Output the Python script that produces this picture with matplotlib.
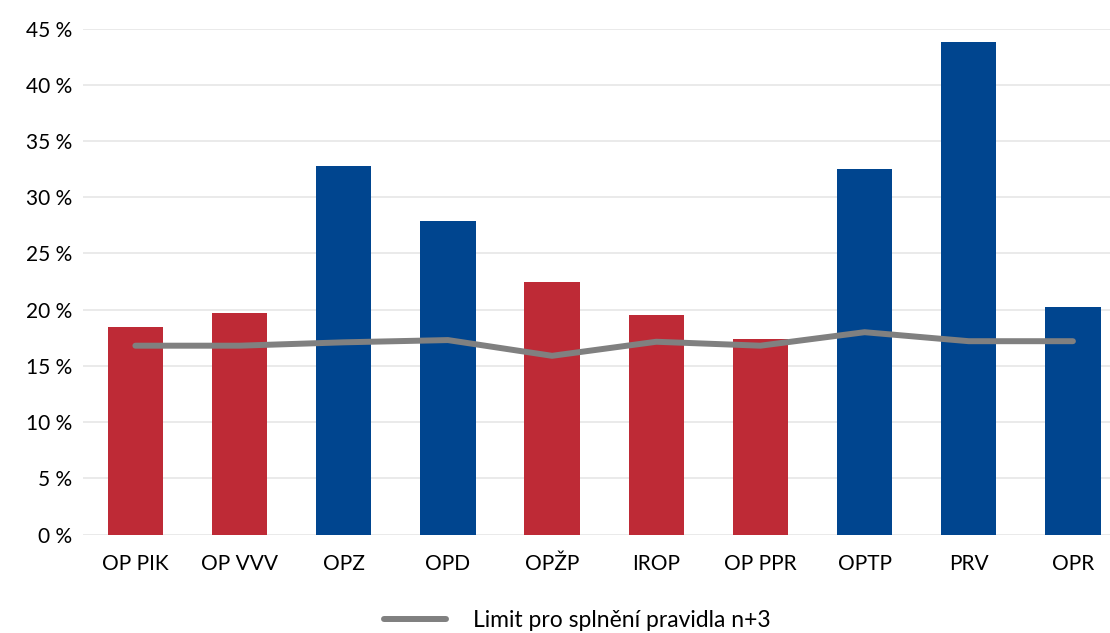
import matplotlib
matplotlib.use("Agg")
import matplotlib.pyplot as plt
from matplotlib.ticker import FuncFormatter

programs = ["OP PIK", "OP VVV", "OPZ", "OPD", "OPŽP", "IROP", "OP PPR", "OPTP", "PRV", "OPR"]
shares = [18.5, 19.7, 32.8, 27.9, 22.5, 19.5, 17.4, 32.5, 43.8, 20.2]
limit = [16.8, 16.8, 17.1, 17.3, 15.9, 17.15, 16.8, 18.0, 17.2, 17.2]
bar_colors = ["#BE2A36", "#BE2A36", "#00458F", "#00458F", "#BE2A36",
              "#BE2A36", "#BE2A36", "#00458F", "#00458F", "#00458F"]

plt.rcParams["font.family"] = ["Lato", "DejaVu Sans"]
plt.rcParams["font.size"] = 15

fig = plt.figure(figsize=(11.1, 6.33), dpi=100)
ax = fig.add_axes([83.3 / 1110, 98.4 / 633, 1 - 83.3 / 1110, (534.6 - 28.6) / 633])

x = range(len(programs))
ax.bar(x, shares, width=0.53, color=bar_colors, zorder=2)
ax.plot(x, limit, color="#808080", lw=4.3, solid_capstyle="round",
        solid_joinstyle="round", zorder=3, label="Limit pro splnění pravidla n+3")

ax.set_ylim(0, 45)
ax.set_yticks(range(0, 46, 5))
ax.yaxis.set_major_formatter(FuncFormatter(lambda v, p: f"{v:.0f} %"))
ax.set_xlim(-0.5, 9.356)
ax.set_xticks(list(x))
ax.set_xticklabels(programs)
ax.grid(axis="y", color="#E4E4E4", lw=1.1, zorder=0)
ax.tick_params(length=0, pad=8)
ax.tick_params(axis="x", pad=14)
for s in ax.spines.values():
    s.set_visible(False)

fig.legend(loc="lower center", bbox_to_anchor=(0.52, -0.03), frameon=False,
           handlelength=2.7, handletextpad=1.2, fontsize=16.5)

fig.savefig("out.png", dpi=100)
